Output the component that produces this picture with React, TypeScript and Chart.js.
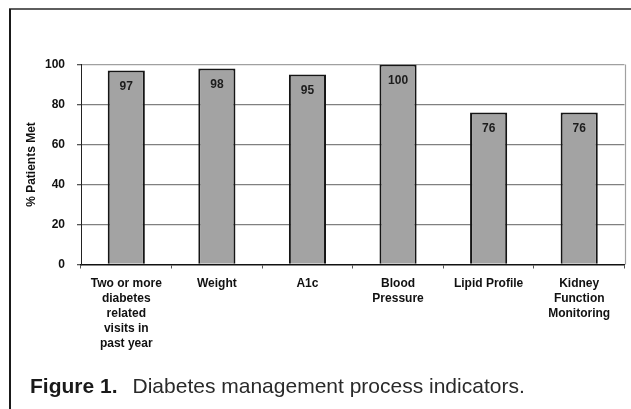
import React, { useEffect, useRef } from "react";
import { Chart, registerables } from "chart.js";

Chart.register(...registerables);

// Process indicators shown along the x axis
const categories: (string | string[])[] = [
  ["Two or more", "diabetes", "related", "visits in", "past year"],
  "Weight",
  "A1c",
  ["Blood", "Pressure"],
  "Lipid Profile",
  ["Kidney", "Function", "Monitoring"],
];

// Share of patients meeting each indicator (%)
const percentMet: number[] = [97, 98, 95, 100, 76, 76];

// Value axis range and spacing
const yMin = 0;
const yMax = 100;
const yStep = 20;

const FONT = "'Liberation Sans', Arial, Helvetica, sans-serif";

// Writes each bar's value just below its top edge
const barValueLabels = {
  id: "barValueLabels",
  afterDatasetsDraw(chart: any) {
    const ctx = chart.ctx;
    const meta = chart.getDatasetMeta(0);
    const values = chart.data.datasets[0].data as number[];
    ctx.save();
    ctx.font = `bold 12px ${FONT}`;
    ctx.fillStyle = "#1c1c1c";
    ctx.textAlign = "center";
    ctx.textBaseline = "middle";
    meta.data.forEach((bar: any, i: number) => {
      ctx.fillText(String(values[i]), bar.x, bar.y + 16);
    });
    ctx.restore();
  },
};

// Closes the plot area on its right side
const plotFrame = {
  id: "plotFrame",
  beforeDatasetsDraw(chart: any) {
    const { ctx, chartArea } = chart;
    ctx.save();
    ctx.strokeStyle = "#a0a0a0";
    ctx.lineWidth = 1.2;
    ctx.beginPath();
    ctx.moveTo(Math.round(chartArea.right) + 0.5, chartArea.top);
    ctx.lineTo(Math.round(chartArea.right) + 0.5, chartArea.bottom);
    ctx.stroke();
    ctx.restore();
  },
};

export default function App() {
  const canvasRef = useRef<HTMLCanvasElement | null>(null);

  useEffect(() => {
    document.body.style.margin = "0";
    const canvas = canvasRef.current;
    if (!canvas) return;
    const tickFont = { family: FONT, size: 12, weight: "bold" as const, lineHeight: 15 / 12 };

    const chart = new Chart(canvas, {
      type: "bar",
      data: {
        labels: categories,
        datasets: [
          {
            data: percentMet,
            backgroundColor: "#a3a3a3",
            borderColor: "#151515",
            borderWidth: 2,
            barPercentage: 0.41,
            categoryPercentage: 1,
          },
        ],
      },
      options: {
        animation: false,
        responsive: false,
        devicePixelRatio: 1,
        layout: { padding: { top: 64.5, right: 6.5, left: 0, bottom: 0 } },
        plugins: {
          legend: { display: false },
          tooltip: { enabled: false },
        },
        scales: {
          x: {
            grid: {
              drawOnChartArea: false,
              offset: true,
              tickLength: 4,
              tickColor: "#555",
            },
            border: { color: "#111", width: 1.5 },
            ticks: {
              color: "#111",
              font: tickFont,
              padding: 8,
              maxRotation: 0,
              autoSkip: false,
            },
            afterFit: (scale: any) => {
              scale.height = 144.5;
            },
          },
          y: {
            min: yMin,
            max: yMax,
            ticks: {
              stepSize: yStep,
              padding: 12,
              color: "#111",
              font: tickFont,
            },
            grid: {
              color: (ctx: any) => {
                const v = ctx.tick ? ctx.tick.value : null;
                if (v === yMin) return "rgba(0,0,0,0)";
                if (v === yMax) return "#a0a0a0";
                return "#808080";
              },
              lineWidth: 1.3,
              tickLength: 4,
              tickColor: "#555",
            },
            border: { color: "#222", width: 1 },
            title: {
              display: true,
              text: "% Patients Met",
              color: "#111",
              font: { family: FONT, size: 12, weight: "bold" },
              padding: { top: 24, bottom: 0 },
            },
            afterFit: (scale: any) => {
              scale.width = 81;
            },
          },
        },
      },
      plugins: [barValueLabels, plotFrame],
    });

    return () => chart.destroy();
  }, []);

  return (
    <div
      style={{
        position: "relative",
        width: 631,
        height: 409,
        background: "#fff",
        overflow: "hidden",
      }}
    >
      <div style={{ position: "absolute", left: 9, top: 8, width: 622, height: 2, background: "#5e5e5e" }} />
      <div style={{ position: "absolute", left: 9, top: 9, width: 1.5, height: 400, background: "#1a1a1a" }} />
      <canvas
        ref={canvasRef}
        width={631}
        height={409}
        style={{ position: "absolute", left: 0, top: 0, width: 631, height: 409 }}
      />
      <div
        style={{
          position: "absolute",
          left: 30,
          top: 375,
          fontFamily: FONT,
          fontSize: 21,
          lineHeight: "21px",
          color: "#2a2a2a",
          whiteSpace: "nowrap",
        }}
      >
        <span style={{ fontWeight: "bold", color: "#1a1a1a" }}>Figure 1.</span>
        <span style={{ marginLeft: 15 }}>Diabetes management process indicators.</span>
      </div>
    </div>
  );
}
